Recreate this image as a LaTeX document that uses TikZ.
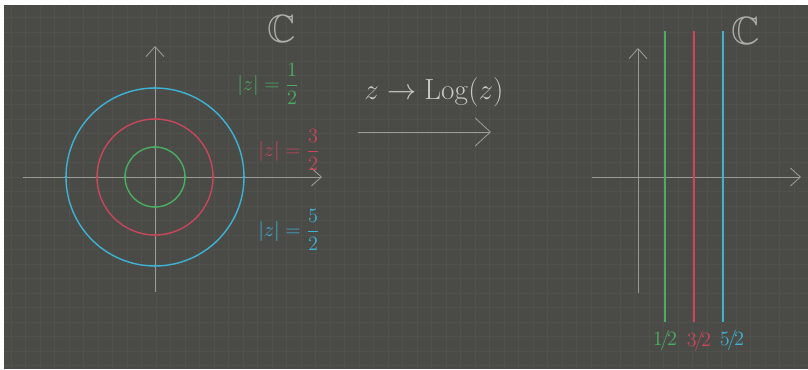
\documentclass[tikz,border=0pt]{standalone}
\usepackage{amsmath,amssymb}
\usepackage{tikz}
\usetikzlibrary{arrows.meta, positioning}
\definecolor{board}{HTML}{4A4A46}
\definecolor{gridgray}{HTML}{50504C}
\definecolor{axisgray}{HTML}{9A9A96}
\definecolor{chalk}{HTML}{C8C8C4}
\definecolor{greenline}{HTML}{4AAE62}
\definecolor{redline}{HTML}{C8475A}
\definecolor{cyanline}{HTML}{3FB2D4}
\tikzstyle{gridline} = [draw=gridgray, line width=0.4pt]
\tikzstyle{axis} = [draw=axisgray, line width=0.6pt, -{Straight Barb[length=2.5mm, width=4.5mm]}]
\tikzstyle{maparrow} = [draw=axisgray, line width=0.6pt, -{Straight Barb[length=3.8mm, width=7mm]}]
\tikzstyle{level} = [line width=1pt]
\tikzstyle{modlabel} = [font=\Large, inner sep=1pt]
\tikzstyle{cutlabel} = [font=\Large, inner sep=1pt]
\tikzstyle{planename} = [text=axisgray!80, font=\fontsize{28}{32}\selectfont, inner sep=0pt]

\begin{document}
\begin{tikzpicture}[x=0.025cm, y=-0.025cm]

  \useasboundingbox (0,0) rectangle (808,369);
  \fill[white] (0,0) rectangle (808,369);
  \fill[board] (4,5) rectangle (808,369);
  \begin{scope}
    \clip (4,5) rectangle (808,369);
    \foreach \x in {11,25.5,...,808}
      \draw[gridline] (\x,5) -- (\x,369);
    \foreach \y in {3,17.5,...,369}
      \draw[gridline] (4,\y) -- (808,\y);
  \end{scope}

  % z-plane
  \node[planename] (zplane) at (282,29) {$\mathbb{C}$};
  \coordinate (o) at (155,177);
  \coordinate (lxs) at (23,177);
  \coordinate (lxe) at (322,177);
  \coordinate (lys) at (155,292);
  \coordinate (lye) at (155,46);
  \draw[axis] (lxs) -- (lxe);
  \draw[axis] (lys) -- (lye);

  \foreach \r/\c in {89/cyanline, 58/redline, 30/greenline} {
    \draw[level, \c] (o) circle [radius=\r];
    \foreach \a in {0,90,180,270}
      \fill[\c] (o) ++(\a:\r) circle [radius=1.6];
  }

  \node[modlabel, text=greenline] (half) at (268,84) {$|z| = \dfrac{1}{2}$};
  \node[modlabel, text=redline] (threehalf) at (289,150) {$|z| = \dfrac{3}{2}$};
  \node[modlabel, text=cyanline] (fivehalf) at (289,230) {$|z| = \dfrac{5}{2}$};

  % the map
  \node[text=chalk, font=\huge] (map) at (434,92) {$z \to \mathrm{Log}(z)$};
  \coordinate (ms) at (358,132);
  \coordinate (me) at (491,132);
  \draw[maparrow] (ms) -- (me);

  % w-plane
  \node[planename] (wplane) at (746,31) {$\mathbb{C}$};
  \coordinate (rxs) at (592,177);
  \coordinate (rxe) at (801,177);
  \coordinate (rys) at (638,293);
  \coordinate (rye) at (638,48);
  \draw[axis] (rxs) -- (rxe);
  \draw[axis] (rys) -- (rye);

  \foreach \x/\c/\n in {665/greenline/1, 694/redline/3, 723/cyanline/5} {
    \coordinate (t\n) at (\x,31);
    \coordinate (b\n) at (\x,322);
    \draw[level, \c] (b\n) -- (t\n);
  }
  \node[cutlabel, text=greenline] (lone) at (665,340) {1\kern-2pt/\kern-2pt2};
  \node[cutlabel, text=redline] (lthree) at (699,341) {3\kern-2pt/\kern-2pt2};
  \node[cutlabel, text=cyanline] (lfive) at (732,340) {5\kern-2pt/\kern-2pt2};

\end{tikzpicture}
\end{document}
